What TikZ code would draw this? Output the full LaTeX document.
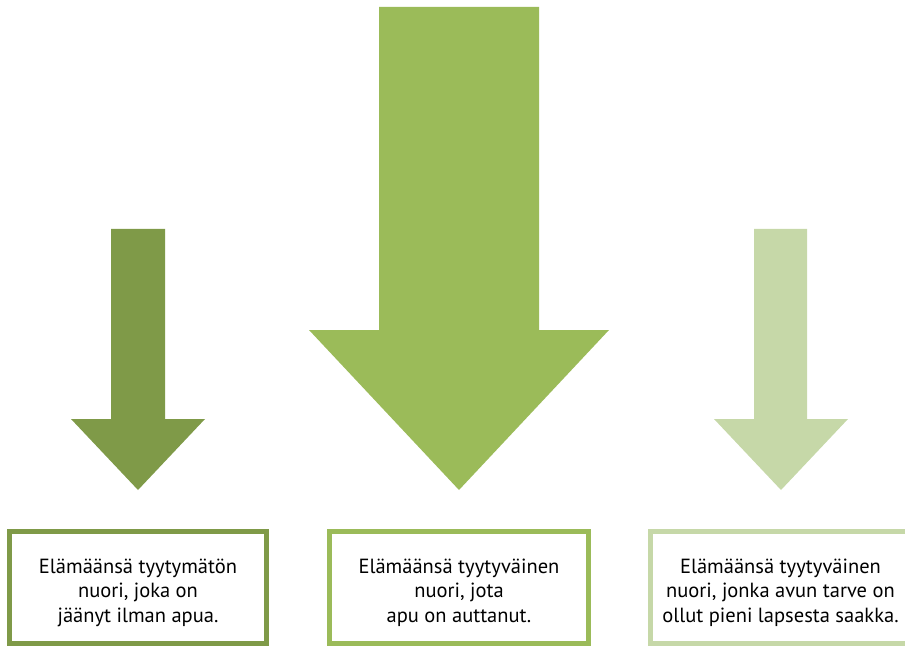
\documentclass[tikz,border=0pt]{standalone}
\usepackage{fontspec}
\setmainfont{PT Sans}
\definecolor{gdark}{HTML}{7F9A48}
\definecolor{gmid}{HTML}{9BBB59}
\definecolor{glight}{HTML}{C6D8A8}
\begin{document}
\begin{tikzpicture}[x=1pt,y=-1pt,
  framebox/.style={draw=#1,line width=5pt,fill=white,rectangle,
    minimum height=112pt,inner sep=0pt},
  boxtext/.style={align=center,inner sep=0pt,text=black,anchor=base,
    font=\fontsize{20.5}{24.5}\selectfont}]
\useasboundingbox (0,0) rectangle (905,647);
% arrows
\fill[gdark] (111,229) -- (165,229) -- (165,419) -- (205,419) -- (138,490) -- (71,419) -- (111,419) -- cycle;
\fill[gmid] (379,7) -- (539,7) -- (539,330) -- (609,330) -- (459,490) -- (309,330) -- (379,330) -- cycle;
\fill[glight] (754,229) -- (807,229) -- (807,419) -- (848,419) -- (781,490) -- (714,419) -- (754,419) -- cycle;
% boxes
\node[framebox=gdark,minimum width=257pt] (b1) at (138,587.5) {};
\node[framebox=gmid,minimum width=259pt] (b2) at (459,587.5) {};
\node[framebox=glight,minimum width=260pt] (b3) at (780.5,587.5) {};
% texts (anchored at the baseline of the last line)
\node[boxtext] (t1) at (138,622) {Elämäänsä tyytymätön\\nuori, joka on\\jäänyt ilman apua.};
\node[boxtext] (t2) at (459,622) {Elämäänsä tyytyväinen\\nuori, jota\\apu on auttanut.};
\node[boxtext] (t3) at (780.5,622) {Elämäänsä tyytyväinen\\nuori, jonka avun tarve on\\ollut pieni lapsesta saakka.};
\end{tikzpicture}
\end{document}
